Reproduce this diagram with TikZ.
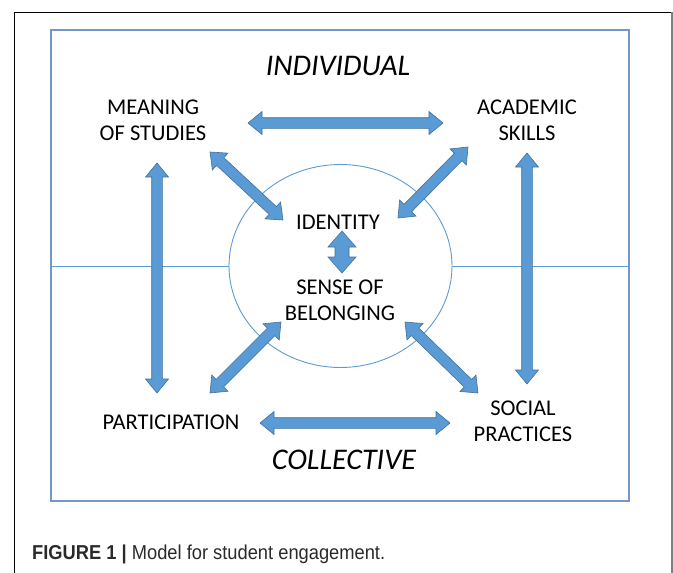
\documentclass[tikz,border=0pt]{standalone}
\usepackage{fontspec}
\setmainfont{Carlito}
\newfontfamily\capfont{Liberation Sans}
\usetikzlibrary{calc,shapes.geometric}
\definecolor{arrowfill}{HTML}{5B9BD5}
\definecolor{arrowedge}{HTML}{41719C}
\definecolor{boxblue}{HTML}{7397C6}
\definecolor{lineblue}{HTML}{5B9BD5}
\definecolor{captext}{HTML}{2A2A2A}
\tikzset{
  barrow/.style={fill=arrowfill, draw=arrowedge, line width=0.6pt, line join=miter},
  lbl/.style={font=\fontsize{22.5}{26}\selectfont, align=center, inner sep=0pt},
  bigital/.style={font=\fontsize{30}{36}\selectfont\itshape, inner sep=0pt},
  thinblue/.style={draw=lineblue, line width=0.9pt},
}
% block double arrow: from, to, head half width, shaft half width, head length
\newcommand\blockarrow[5]{%
  \coordinate (ba1) at ($(#1)!#5!(#2)$);
  \coordinate (ba2) at ($(#2)!#5!(#1)$);
  \path[barrow] (#1) -- ($(ba1)!#3!90:(#2)$) -- ($(ba1)!#4!90:(#2)$)
    -- ($(ba2)!#4!-90:(#1)$) -- ($(ba2)!#3!-90:(#1)$) -- (#2)
    -- ($(ba2)!#3!90:(#1)$) -- ($(ba2)!#4!90:(#1)$)
    -- ($(ba1)!#4!-90:(#2)$) -- ($(ba1)!#3!-90:(#2)$) -- cycle;}
\begin{document}
\begin{tikzpicture}[x=1pt,y=-1pt]
\useasboundingbox (0,0) rectangle (673,573);
% outer frame
\draw[black, line width=1pt] (14,573) -- (14,12) -- (672,12);
\draw[gray, line width=1.6pt] (672,12) -- (672,573);
% inner blue box
\draw[boxblue, line width=1.3pt] (51,30) rectangle (629,501);
% central ellipse
\node[ellipse, thinblue, minimum width=223pt, minimum height=203pt, inner sep=0pt] (core) at (340.5,266) {};
\coordinate (hl) at (51,266);
\coordinate (hr) at (629,266);
\draw[thinblue] (hl) -- (core.west);
\draw[thinblue] (core.east) -- (hr);
% labels
\node[bigital] (indiv) at (338,66) {INDIVIDUAL};
\node[bigital] (coll) at (344,460) {COLLECTIVE};
\node[lbl] (meaning) at (153,120) {MEANING\\OF STUDIES};
\node[lbl] (academic) at (527,120) {ACADEMIC\\SKILLS};
\node[lbl] (identity) at (338,222) {IDENTITY};
\node[lbl] (belong) at (340,300) {SENSE OF\\BELONGING};
\node[lbl] (partic) at (171,422) {PARTICIPATION};
\node[lbl] (social) at (523,421) {SOCIAL\\PRACTICES};
% arrow end points
\coordinate (t1) at (248,123);  \coordinate (t2) at (443,123);
\coordinate (b1) at (260,423);  \coordinate (b2) at (450,423);
\coordinate (l1) at (157,163);  \coordinate (l2) at (157,393);
\coordinate (r1) at (527,153);  \coordinate (r2) at (527,384);
\coordinate (tl1) at (210,152); \coordinate (tl2) at (283,220);
\coordinate (tr1) at (468,147); \coordinate (tr2) at (398,218);
\coordinate (bl1) at (210,393); \coordinate (bl2) at (281,322);
\coordinate (br1) at (405,322); \coordinate (br2) at (478,393);
\coordinate (c1) at (342,231);  \coordinate (c2) at (342,273);
\blockarrow{t1}{t2}{11.5pt}{5.3pt}{14pt}
\blockarrow{b1}{b2}{11.5pt}{5.3pt}{14pt}
\blockarrow{l1}{l2}{11.5pt}{5.3pt}{14pt}
\blockarrow{r1}{r2}{11.5pt}{5.3pt}{14pt}
\blockarrow{tl1}{tl2}{11.5pt}{5.3pt}{14pt}
\blockarrow{tr1}{tr2}{11.5pt}{5.3pt}{14pt}
\blockarrow{bl1}{bl2}{11.5pt}{5.3pt}{14pt}
\blockarrow{br1}{br2}{11.5pt}{5.3pt}{14pt}
\blockarrow{c1}{c2}{14pt}{7pt}{16pt}
% caption
\node[anchor=base west, inner sep=0pt, text=captext, font=\capfont\fontsize{18.3}{22}\selectfont] (cap) at (32,559) {\scalebox{1}[1.1]{\textbf{FIGURE 1 |} Model for student engagement.}};
\end{tikzpicture}
\end{document}
